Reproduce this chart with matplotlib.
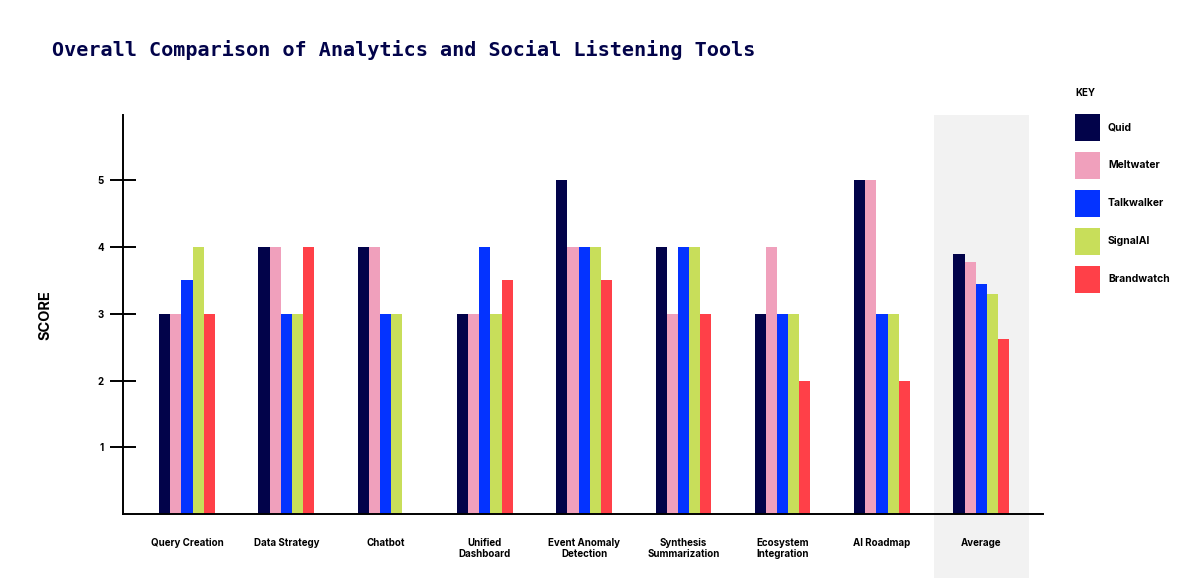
import numpy as np
import matplotlib
matplotlib.use("Agg")
import matplotlib.pyplot as plt
from matplotlib.patches import Rectangle
import matplotlib.transforms as mtransforms

plt.rcParams['font.family'] = ['Inter', 'DejaVu Sans']

categories = ["Query Creation", "Data Strategy", "Chatbot", "Unified\nDashboard",
              "Event Anomaly\nDetection", "Synthesis\nSummarization",
              "Ecosystem\nIntegration", "AI Roadmap", "Average"]

tools = ["Quid", "Meltwater", "Talkwalker", "SignalAI", "Brandwatch"]
colors = ["#02034a", "#f0a0bc", "#0433ff", "#c8de5a", "#ff4048"]

quid = [3, 4, 4, 3, 5, 4, 3, 5, 3.9]
meltwater = [3, 4, 4, 3, 4, 3, 4, 5, 3.77]
talkwalker = [3.5, 3, 3, 4, 4, 4, 3, 3, 3.45]
signalai = [4, 3, 3, 3, 4, 4, 3, 3, 3.3]
brandwatch = [3, 4, 0, 3.5, 3.5, 3, 2, 2, 2.62]
series = [quid, meltwater, talkwalker, signalai, brandwatch]

yticks = [1, 2, 3, 4, 5]

fig = plt.figure(figsize=(12, 5.78), dpi=100)
ax = fig.add_axes([0.1023, 0.1107, 0.7667, 0.6903])

x = np.arange(len(categories))
w = 0.112

# shaded column behind the average group
trans = mtransforms.blended_transform_factory(ax.transData, ax.transAxes)
ax.add_patch(Rectangle((7.525, -0.3), 0.955, 1.3, transform=trans,
                       facecolor="#f2f2f2", edgecolor="none", clip_on=False, zorder=0))

for i, (vals, c) in enumerate(zip(series, colors)):
    ax.bar(x + (i - 2) * w, vals, width=w, color=c, zorder=2)

ax.set_xlim(-0.647, 8.62)
ax.set_ylim(0, 5.98)
ax.set_xticks(x)
ax.set_xticklabels(categories, fontsize=7, fontweight="bold", linespacing=1.2)
ax.tick_params(axis="x", length=0, pad=17)
ax.set_yticks(yticks)
ax.set_yticklabels([str(t) for t in yticks], fontsize=7, fontweight="bold")
ax.tick_params(axis="y", direction="inout", length=19, width=1.4, pad=4)

for s in ["top", "right"]:
    ax.spines[s].set_visible(False)
for s in ["left", "bottom"]:
    ax.spines[s].set_linewidth(1.4)
ax.patch.set_alpha(0)

fig.text(0.038, 0.455, "SCORE", rotation=90, ha="center", va="center",
         fontsize=10.5, fontweight="bold")

fig.text(0.043, 0.913, "Overall Comparison of Analytics and Social Listening Tools",
         family="DejaVu Sans Mono", fontsize=14.5, fontweight="bold",
         color="#02034a", ha="left", va="center")

# key
fig.text(1075 / 1200, 1 - 93 / 578, "KEY", fontsize=7, fontweight="bold",
         ha="left", va="center")
for i, (name, c) in enumerate(zip(tools, colors)):
    top = 114 + i * 38
    fig.patches.append(Rectangle((1075 / 1200, 1 - (top + 27) / 578), 25 / 1200, 27 / 578,
                                 transform=fig.transFigure, facecolor=c, edgecolor="none"))
    fig.text(1108 / 1200, 1 - (top + 13.5) / 578, name, fontsize=7.5, fontweight="bold",
             ha="left", va="center")

fig.savefig("out.png", dpi=100)
